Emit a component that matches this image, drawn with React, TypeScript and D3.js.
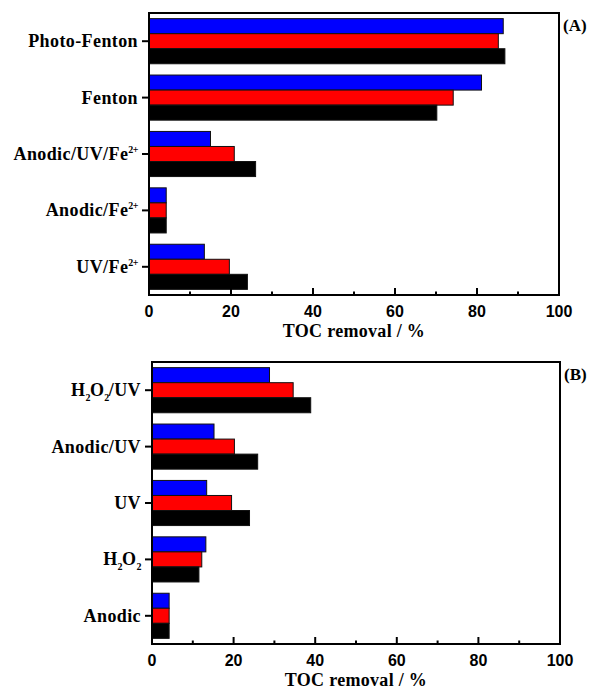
import React from "react";
import * as d3 from "d3";

const categoriesA = ["Photo-Fenton", "Fenton", "Anodic/UV/Fe2+", "Anodic/Fe2+", "UV/Fe2+"];
const blueA = [86.4, 81.1, 15.0, 4.2, 13.5];
const redA = [85.2, 74.2, 20.8, 4.2, 19.6];
const blackA = [86.8, 70.2, 26.0, 4.2, 24.0];

const categoriesB = ["H2O2/UV", "Anodic/UV", "UV", "H2O2", "Anodic"];
const blueB = [28.8, 15.2, 13.4, 13.2, 4.2];
const redB = [34.6, 20.2, 19.5, 12.2, 4.2];
const blackB = [38.9, 25.9, 23.9, 11.5, 4.2];

const seriesNames = ["blue", "red", "black"];
const seriesColors = ["#0000ff", "#ff0000", "#000000"];
const majorTicks = [0, 20, 40, 60, 80, 100];
const minorTicks = [10, 30, 50, 70, 90];
const xTitle = "TOC removal / %";

const SERIF = "'Liberation Serif', 'Times New Roman', serif";
const SANS = "'Liberation Sans', Arial, sans-serif";

type Part = { t: string; k: "n" | "sup" | "sub" };

function parseLabel(s: string): Part[] {
  const parts: Part[] = [];
  const re = /(Fe)(2\+)|(H)2(O)2/g;
  let last = 0;
  let m: RegExpExecArray | null;
  while ((m = re.exec(s))) {
    if (m.index > last) parts.push({ t: s.slice(last, m.index), k: "n" });
    if (m[1]) {
      parts.push({ t: "Fe", k: "n" });
      parts.push({ t: "2+", k: "sup" });
    } else {
      parts.push({ t: "H", k: "n" });
      parts.push({ t: "2", k: "sub" });
      parts.push({ t: "O", k: "n" });
      parts.push({ t: "2", k: "sub" });
    }
    last = m.index + m[0].length;
  }
  if (last < s.length) parts.push({ t: s.slice(last), k: "n" });
  return parts;
}

function Label({ text, x, y }: { text: string; x: number; y: number }) {
  const parts = parseLabel(text);
  let prev: string = "n";
  return (
    <text
      x={x}
      y={y}
      textAnchor="end"
      fontFamily={SERIF}
      fontWeight="bold"
      fontSize={18}
      letterSpacing={0.4}
      fill="#000"
    >
      {parts.map((p, i) => {
        let dy = 0;
        if (p.k === "sup" && prev !== "sup") dy = -7;
        if (p.k === "sub" && prev !== "sub") dy = 5;
        if (p.k === "n" && prev === "sup") dy = 7;
        if (p.k === "n" && prev === "sub") dy = -5;
        prev = p.k;
        return (
          <tspan key={i} dy={dy} fontSize={p.k === "n" ? 18 : 10} letterSpacing={p.k === "n" ? 0.4 : -0.5}>
            {p.t}
          </tspan>
        );
      })}
    </text>
  );
}

function Panel({
  cats,
  series,
  x0,
  x1,
  y0,
  y1,
  tag,
}: {
  cats: string[];
  series: number[][];
  x0: number;
  x1: number;
  y0: number;
  y1: number;
  tag: string;
}) {
  const x = d3.scaleLinear().domain([0, 100]).range([x0, x1]);
  const y = d3.scaleBand<string>().domain(cats).range([y0, y1]).paddingInner(0.2).paddingOuter(0.1);
  const inner = d3.scaleBand<string>().domain(seriesNames).range([0, y.bandwidth()]);
  return (
    <g>
      {cats.map((c, ci) => (
        <g key={c} transform={`translate(0,${y(c)})`}>
          {seriesNames.map((s, si) => (
            <rect
              key={s}
              x={x(0)}
              y={inner(s)}
              width={x(series[si][ci]) - x(0)}
              height={inner.bandwidth()}
              fill={seriesColors[si]}
              stroke="#111"
              strokeWidth={1}
            />
          ))}
        </g>
      ))}
      <rect x={x0} y={y0} width={x1 - x0} height={y1 - y0} fill="none" stroke="#000" strokeWidth={2} />
      {majorTicks.map((t) => (
        <line key={"M" + t} x1={x(t)} x2={x(t)} y1={y1} y2={y1 - 7} stroke="#000" strokeWidth={2} />
      ))}
      {minorTicks.map((t) => (
        <line key={"m" + t} x1={x(t)} x2={x(t)} y1={y1} y2={y1 - 3.5} stroke="#000" strokeWidth={2} />
      ))}
      {majorTicks.map((t) => (
        <text
          key={"L" + t}
          x={x(t)}
          y={y1 + 22}
          textAnchor="middle"
          fontFamily={SANS}
          fontWeight="bold"
          fontSize={16}
          fill="#000"
        >
          {t}
        </text>
      ))}
      {cats.map((c) => {
        const cy = (y(c) as number) + y.bandwidth() / 2;
        return (
          <g key={"c" + c}>
            <line x1={x0 - 7} x2={x0} y1={cy} y2={cy} stroke="#000" strokeWidth={2} />
            <Label text={c} x={x0 - 11} y={cy + 6} />
          </g>
        );
      })}
      <text
        x={(x0 + x1) / 2}
        y={y1 + 42}
        textAnchor="middle"
        fontFamily={SERIF}
        fontWeight="bold"
        fontSize={18}
        letterSpacing={0.3}
        fill="#000"
      >
        {xTitle}
      </text>
      <text x={x1 + 4} y={y0 + 18} fontFamily={SERIF} fontWeight="bold" fontSize={17} fill="#000">
        {tag}
      </text>
    </g>
  );
}

export default function App() {
  return (
    <svg width={589} height={695} style={{ position: "absolute", left: 0, top: 0, background: "#fff" }}>
      <rect width={589} height={695} fill="#fff" />
      <Panel cats={categoriesA} series={[blueA, redA, blackA]} x0={149} x1={559} y0={13} y1={295} tag="(A)" />
      <Panel cats={categoriesB} series={[blueB, redB, blackB]} x0={152} x1={560} y0={362} y1={644} tag="(B)" />
    </svg>
  );
}
